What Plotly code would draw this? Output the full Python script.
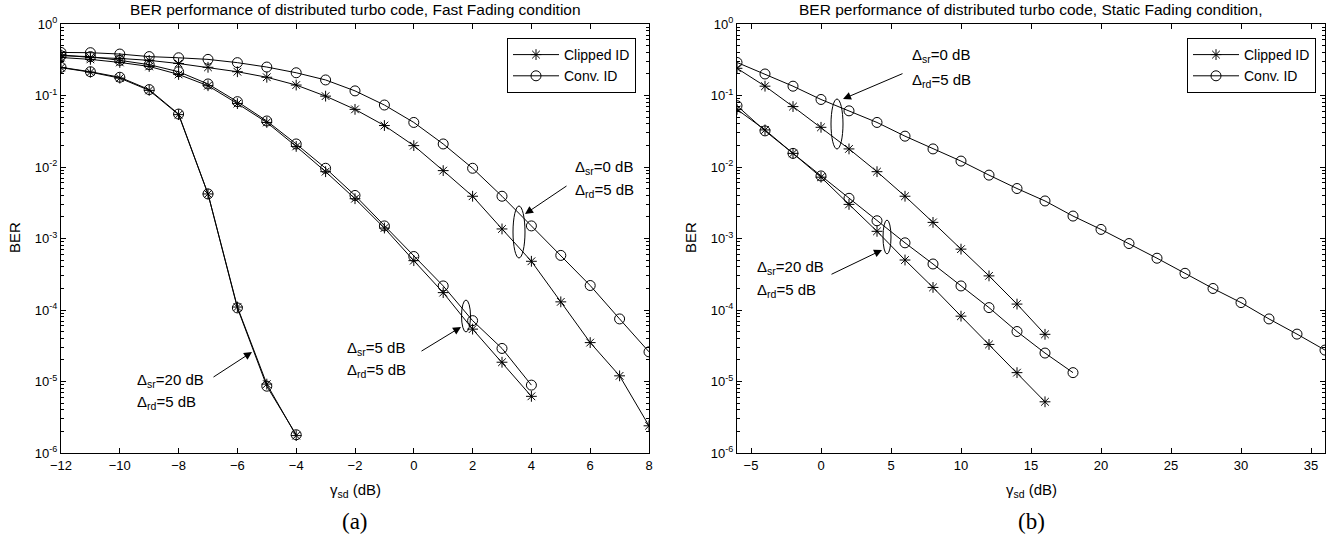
import plotly.graph_objects as go

# ---------------- data ----------------
# (a) Fast fading
fast_x_all = list(range(-12, 9))
fast_sr0_clip = [0.37, 0.34, 0.33, 0.31, 0.28, 0.248, 0.215, 0.18, 0.14, 0.098, 0.064,
                 0.038, 0.0199, 8.9e-3, 3.9e-3, 1.36e-3, 4.8e-4, 1.3e-4, 3.5e-5, 1.2e-5, 2.4e-6]
fast_sr0_conv = [0.40, 0.397, 0.38, 0.35, 0.337, 0.32, 0.288, 0.25, 0.208, 0.165, 0.116,
                 0.0736, 0.042, 0.021, 9.6e-3, 3.9e-3, 1.5e-3, 5.8e-4, 2.2e-4, 7.5e-5, 2.6e-5]
fast_x_sr5 = list(range(-12, 5))
fast_sr5_conv = [0.36, 0.35, 0.31, 0.27, 0.215, 0.145, 0.082, 0.044, 0.021, 9.6e-3, 4.0e-3,
                 1.5e-3, 5.6e-4, 2.17e-4, 7.1e-5, 2.9e-5, 8.9e-6]
fast_sr5_clip = [0.34, 0.32, 0.29, 0.255, 0.197, 0.137, 0.077, 0.042, 0.0194, 8.6e-3, 3.6e-3,
                 1.4e-3, 4.9e-4, 1.75e-4, 5.4e-5, 1.86e-5, 6.2e-6]
fast_x_sr20 = list(range(-12, -3))
fast_sr20_conv = [0.248, 0.215, 0.18, 0.121, 0.055, 4.2e-3, 1.07e-4, 8.6e-6, 1.8e-6]
fast_sr20_clip = [0.245, 0.212, 0.175, 0.118, 0.054, 4.2e-3, 1.1e-4, 9.2e-6, 1.75e-6]

# (b) Static fading
static_x_long = list(range(-6, 37, 2))
static_sr0_conv = [0.29, 0.2, 0.135, 0.088, 0.061, 0.042, 0.027, 0.0179, 0.0121, 7.7e-3, 5.0e-3,
                   3.35e-3, 2.06e-3, 1.34e-3, 8.5e-4, 5.3e-4, 3.26e-4, 2.0e-4, 1.27e-4, 7.5e-5,
                   4.6e-5, 2.75e-5]
static_x_16 = list(range(-6, 17, 2))
static_sr0_clip = [0.24, 0.135, 0.07, 0.0359, 0.0179, 8.6e-3, 3.9e-3, 1.68e-3, 7.1e-4, 3.0e-4,
                   1.21e-4, 4.57e-5]
static_x_18 = list(range(-6, 19, 2))
static_sr20_conv = [0.072, 0.032, 0.0155, 7.5e-3, 3.65e-3, 1.77e-3, 8.7e-4, 4.4e-4, 2.17e-4,
                    1.08e-4, 5.0e-5, 2.5e-5, 1.33e-5]
static_sr20_clip = [0.064, 0.033, 0.0155, 7.2e-3, 3.0e-3, 1.26e-3, 5.0e-4, 2.07e-4, 8.2e-5,
                    3.3e-5, 1.33e-5, 5.2e-6]

y_tickvals = [1e-6, 1e-5, 1e-4, 1e-3, 1e-2, 1e-1, 1]
y_ticktext = ["10<sup>-6</sup>", "10<sup>-5</sup>", "10<sup>-4</sup>", "10<sup>-3</sup>",
              "10<sup>-2</sup>", "10<sup>-1</sup>", "10<sup>0</sup>"]

FONT = "Liberation Sans, Arial, Helvetica, sans-serif"
SERIF = "Liberation Serif, Times New Roman, serif"

W, H = 1340, 543


def px(x):
    return x / W


def py(y):
    return 1 - y / H


fig = go.Figure()


def add(x, y, xa, ya, sym, name, show, legend, size):
    fig.add_trace(go.Scatter(
        x=x, y=y, mode="lines+markers", xaxis=xa, yaxis=ya, name=name,
        showlegend=show, legend=legend,
        line=dict(color="black", width=1),
        marker=dict(symbol=sym, size=size, color="black",
                    line=dict(color="black", width=1)),
    ))


STAR = "asterisk-open"
CIRC = "circle-open"
SS, CS = 9, 10

add(fast_x_all, fast_sr0_clip, "x", "y", STAR, "Clipped ID", True, "legend", SS)
add(fast_x_all, fast_sr0_conv, "x", "y", CIRC, "Conv. ID", True, "legend", CS)
add(fast_x_sr5, fast_sr5_clip, "x", "y", STAR, "Clipped ID", False, "legend", SS)
add(fast_x_sr5, fast_sr5_conv, "x", "y", CIRC, "Conv. ID", False, "legend", CS)
add(fast_x_sr20, fast_sr20_clip, "x", "y", STAR, "Clipped ID", False, "legend", SS)
add(fast_x_sr20, fast_sr20_conv, "x", "y", CIRC, "Conv. ID", False, "legend", CS)

add(static_x_16, static_sr0_clip, "x2", "y2", STAR, "Clipped ID", True, "legend2", SS)
add(static_x_long, static_sr0_conv, "x2", "y2", CIRC, "Conv. ID", True, "legend2", CS)
add(static_x_16, static_sr20_clip, "x2", "y2", STAR, "Clipped ID", False, "legend2", SS)
add(static_x_18, static_sr20_conv, "x2", "y2", CIRC, "Conv. ID", False, "legend2", CS)

minor_vals = [k * 10.0 ** e for e in range(-6, 0) for k in range(2, 10)]

ydom = [py(453), py(24)]
common_x = dict(showgrid=False, zeroline=False, showline=True, linecolor="black", linewidth=1.3,
                mirror="allticks", ticks="inside", ticklen=5, tickcolor="black", automargin=False,
                tickfont=dict(size=13, family=FONT, color="black"))
common_y = dict(type="log", range=[-6, 0], domain=ydom, showgrid=False, zeroline=False,
                showline=True, linecolor="black", linewidth=1.3, mirror="allticks",
                ticks="inside", ticklen=5, tickcolor="black", automargin=False,
                tickmode="array", tickvals=y_tickvals, ticktext=y_ticktext,
                tickfont=dict(size=13, family=FONT, color="black"),
                minor=dict(tickmode="array", tickvals=minor_vals, ticks="inside",
                           ticklen=3, tickcolor="black", showgrid=False))

fig.update_layout(
    width=W, height=H, autosize=False,
    margin=dict(l=0, r=0, t=0, b=0, pad=0),
    paper_bgcolor="white", plot_bgcolor="white",
    font=dict(family=FONT, size=13, color="black"),
    xaxis=dict(domain=[px(61), px(649)], range=[-12, 8], dtick=2, tick0=0, anchor="y", **common_x),
    yaxis=dict(anchor="x", **common_y),
    xaxis2=dict(domain=[px(737), px(1325)], range=[-6, 36], dtick=5, tick0=0, anchor="y2", **common_x),
    yaxis2=dict(anchor="x2", **common_y),
    legend=dict(x=px(636), xanchor="right", y=py(38), yanchor="top", itemwidth=46,
                bordercolor="black", borderwidth=1, bgcolor="white",
                font=dict(size=14, family=FONT), tracegroupgap=0),
    legend2=dict(x=px(1316), xanchor="right", y=py(38), yanchor="top", itemwidth=46,
                 bordercolor="black", borderwidth=1, bgcolor="white",
                 font=dict(size=14, family=FONT), tracegroupgap=0),
)

ann = []


def text(x, y, s, size=15, anchor="left", family=FONT, angle=0):
    ann.append(dict(x=px(x), y=py(y), xref="paper", yref="paper", text=s, showarrow=False,
                    xanchor=anchor, yanchor="middle", textangle=angle,
                    font=dict(size=size, family=family, color="black")))


def arrow(x0, y0, x1, y1):
    ann.append(dict(x=px(x1), y=py(y1), xref="paper", yref="paper", text="",
                    showarrow=True, ax=x0 - x1, ay=y0 - y1, axref="pixel", ayref="pixel",
                    arrowhead=2, arrowsize=1.6, arrowwidth=1, arrowcolor="black", standoff=0,
                    startstandoff=0))


# titles
text(355, 10, "BER performance of distributed turbo code, Fast Fading condition", 15.5, "center")
text(1031, 10, "BER performance of distributed turbo code, Static Fading condition,", 15.5, "center")
# axis titles
text(355, 490, "γ<sub>sd</sub> (dB)", 15, "center")
text(1031, 490, "γ<sub>sd</sub> (dB)", 15, "center")
text(14, 238, "BER", 15, "center", angle=-90)
text(690, 238, "BER", 15, "center", angle=-90)
# panel labels
text(355, 521, "(a)", 23, "center", family=SERIF)
text(1031, 521, "(b)", 23, "center", family=SERIF)

# panel (a) annotations
text(573, 167, "Δ<sub>sr</sub>=0 dB")
text(573, 190, "Δ<sub>rd</sub>=5 dB")
arrow(568, 185, 525, 214)
text(345, 348, "Δ<sub>sr</sub>=5 dB")
text(345, 370, "Δ<sub>rd</sub>=5 dB")
arrow(420, 352, 461, 327)
text(135, 380, "Δ<sub>sr</sub>=20 dB")
text(135, 402, "Δ<sub>rd</sub>=5 dB")
arrow(212, 378, 252, 352)

# panel (b) annotations
text(910, 56, "Δ<sub>sr</sub>=0 dB")
text(910, 80, "Δ<sub>rd</sub>=5 dB")
arrow(904, 73, 843, 99)
text(755, 267, "Δ<sub>sr</sub>=20 dB")
text(755, 290, "Δ<sub>rd</sub>=5 dB")
arrow(830, 275, 882, 250)

shapes = []


def ellipse(cx, cy, w, h):
    shapes.append(dict(type="circle", xref="paper", yref="paper",
                       x0=px(cx - w / 2), x1=px(cx + w / 2), y0=py(cy + h / 2), y1=py(cy - h / 2),
                       line=dict(color="black", width=1)))


ellipse(519, 232, 12, 52)
ellipse(466, 316, 9, 32)
ellipse(837, 124, 12, 50)
ellipse(887, 237, 8, 34)

fig.update_layout(annotations=ann, shapes=shapes)
fig.write_html("out.html", config={"displayModeBar": False},
               post_script="document.body.style.margin='0';document.body.style.overflow='hidden';")
